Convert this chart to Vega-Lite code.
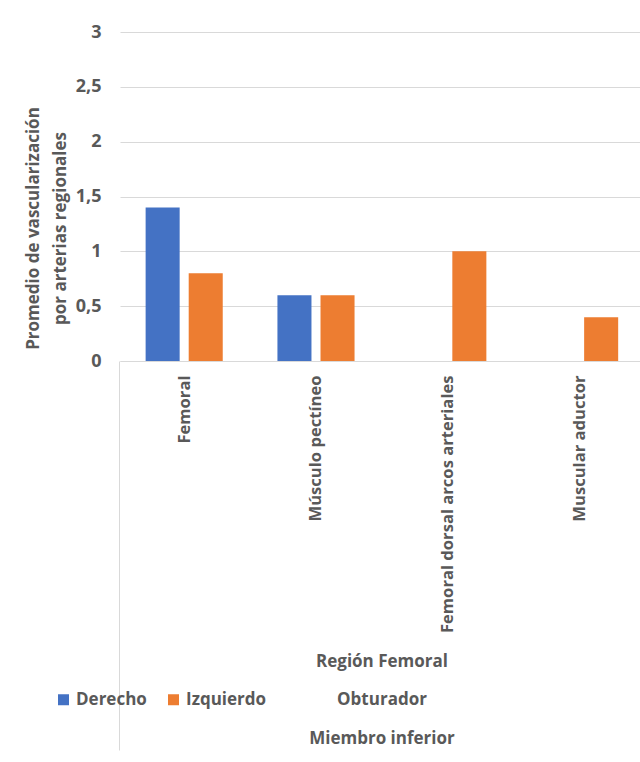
{
  "$schema": "https://vega.github.io/schema/vega-lite/v6.json",
  "autosize": "none",
  "width": 520,
  "height": 329,
  "padding": {"left": 120, "top": 32, "right": 0, "bottom": 401},
  "background": "white",
  "config": {"view": {"stroke": null}, "font": "Open Sans"},
  "data": {
    "values": [
      {"categoria": "Femoral", "lado": "Derecho", "valor": 1.4},
      {"categoria": "Femoral", "lado": "Izquierdo", "valor": 0.8},
      {"categoria": "Músculo pectíneo", "lado": "Derecho", "valor": 0.6},
      {"categoria": "Músculo pectíneo", "lado": "Izquierdo", "valor": 0.6},
      {"categoria": "Femoral dorsal arcos arteriales", "lado": "Izquierdo", "valor": 1.0},
      {"categoria": "Muscular aductor", "lado": "Izquierdo", "valor": 0.4}
    ]
  },
  "mark": {"type": "bar"},
  "encoding": {
    "x": {
      "field": "categoria",
      "type": "nominal",
      "sort": null,
      "scale": {"paddingInner": 0.415, "paddingOuter": 0.18, "align": 0.54},
      "axis": {
        "domain": true,
        "domainColor": "#d9d9d9",
        "domainWidth": 1,
        "ticks": true,
        "tickSize": 389,
        "tickOffset": -65.5,
        "tickColor": {"condition": {"test": "datum.value === 'Femoral'", "value": "#d9d9d9"}, "value": "transparent"},
        "labelOffset": 65.5,
        "labelPadding": -375,
        "labelAngle": -90,
        "labelAlign": "right",
        "labelBaseline": "middle",
        "labelFontSize": 16.6,
        "labelFontWeight": "bold",
        "labelColor": "#595959",
        "labelLimit": 400,
        "title": ["Región Femoral", "Obturador", "Miembro inferior"],
        "titleFontSize": 17,
        "titleFontWeight": "bold",
        "titleColor": "#595959",
        "titleLineHeight": 38.5,
        "titleX": 261.5,
        "titleY": 300,
        "titleAlign": "center",
        "titleBaseline": "middle"
      }
    },
    "xOffset": {
      "field": "lado",
      "type": "nominal",
      "scale": {"domain": ["Derecho", "Izquierdo"], "paddingInner": 0.21, "paddingOuter": 0}
    },
    "y": {
      "field": "valor",
      "type": "quantitative",
      "scale": {"domain": [0, 3]},
      "axis": {
        "values": [0, 0.5, 1, 1.5, 2, 2.5, 3],
        "labelExpr": "replace(toString(datum.value), '.', ',')",
        "domain": false,
        "ticks": false,
        "grid": true,
        "gridColor": "#d9d9d9",
        "gridWidth": 1,
        "labelPadding": 19,
        "labelFontSize": 18,
        "labelFontWeight": "bold",
        "labelColor": "#595959",
        "title": ["Promedio de vascularización", "por arterias regionales"],
        "titleFontSize": 17,
        "titleFontWeight": "bold",
        "titleColor": "#595959",
        "titleLineHeight": 27,
        "titleAngle": -90,
        "titleX": -87,
        "titleY": 196,
        "titleAlign": "center",
        "titleBaseline": "middle"
      }
    },
    "color": {
      "field": "lado",
      "type": "nominal",
      "scale": {"domain": ["Derecho", "Izquierdo"], "range": ["#4472C4", "#ED7D31"]},
      "legend": {
        "orient": "none",
        "legendX": -65,
        "legendY": 659,
        "direction": "horizontal",
        "title": null,
        "symbolType": "square",
        "symbolSize": 121,
        "symbolStrokeWidth": 0,
        "symbolOpacity": 1,
        "labelFontSize": 17,
        "labelFontWeight": "bold",
        "labelColor": "#595959",
        "labelOffset": 4,
        "columnPadding": 18,
        "padding": 0
      }
    }
  }
}
